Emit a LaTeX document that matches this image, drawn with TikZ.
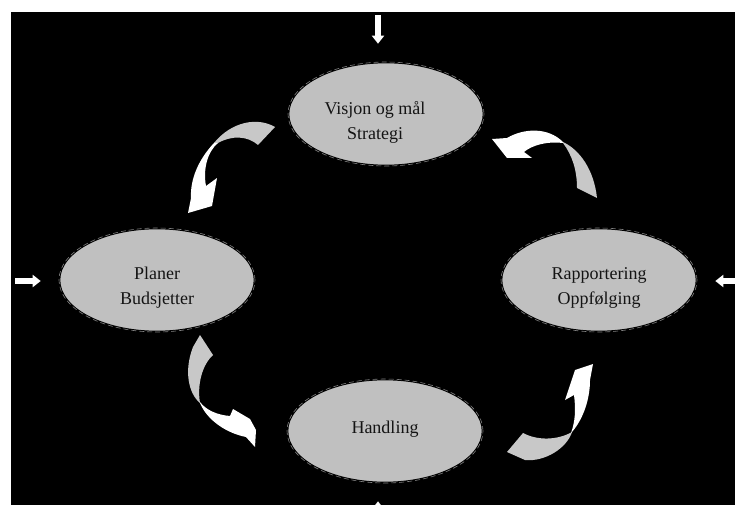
\documentclass[tikz,border=0pt]{standalone}
\usepackage{fontspec}
\setmainfont{Liberation Serif}
\usetikzlibrary{shapes.geometric,arrows.meta}
\definecolor{ellgray}{HTML}{C0C0C0}
\definecolor{ribgray}{HTML}{C8C8C8}
\definecolor{inkgray}{HTML}{141414}

\begin{document}
\begin{tikzpicture}[x=1pt,y=-1pt,
  phase/.style={ellipse, fill=ellgray, draw=black, line width=2.6pt,
    minimum width=196pt, minimum height=104pt, inner sep=0pt,
    postaction={draw=gray, fill=none, line width=0.6pt,
      dash pattern=on 5pt off 3pt}},
  caption/.style={font=\fontsize{18}{25}\selectfont, text=inkgray,
    align=center, inner sep=0pt},
  feed/.style={draw=white, line width=6pt,
    -{Triangle[width=12pt,length=8pt]}, shorten >=17pt},
  ribback/.style={fill=ribgray},
  ribfront/.style={fill=white}]

% page and dark panel
\useasboundingbox (0,0) rectangle (735,505);
\fill[white] (0,0) rectangle (735,505);
\fill[black] (11,12) rectangle (735,505);

% the four phases of the cycle
\node[phase] (vision) at (386,114) {};
\node[phase] (plans)  at (157,280) {};
\node[phase] (report) at (599,280) {};
\node[phase] (action) at (385,431) {};

\node[caption] (visionText) at ([xshift=-11pt,yshift=-8pt]vision.center) {Visjon og mål\\Strategi};
\node[caption] (plansText)  at ([yshift=-8pt]plans.center)  {Planer\\Budsjetter};
\node[caption] (reportText) at ([yshift=-8pt]report.center) {Rapportering\\Oppfølging};
\node[caption] (actionText) at ([yshift=2pt]action.center)  {Handling};

% inputs from outside the cycle
\coordinate (fromTop)    at (378,15);
\coordinate (fromLeft)   at (15,281);
\coordinate (fromRight)  at (735,281);
\coordinate (fromBottom) at (378,520);
\draw[feed] (fromTop) -- (fromTop |- vision.north);
\draw[feed] (fromLeft) -- (fromLeft -| plans.west);
\draw[feed] (fromRight) -- (fromRight -| report.east);
\draw[feed] (fromBottom) -- (fromBottom |- action.south);

% curved ribbon arrows: grey back face, white front face with head
% vision -> plans
\fill[ribback] (275,127) .. controls (258,117) and (232,121) .. (214,143)
  -- (218,143) .. controls (232,135) and (248,136) .. (258,145) -- cycle;
\fill[ribfront] (214,143) .. controls (198,160) and (190,180) .. (191,198)
  -- (188,213) -- (212,206) -- (217,178) -- (206,186)
  .. controls (203,170) and (207,152) .. (218,143) -- cycle;

% report -> vision
\fill[ribback] (563,142) .. controls (580,150) and (594,170) .. (597,198)
  -- (577,188) .. controls (577,170) and (572,155) .. (563,143) -- cycle;
\fill[ribfront] (563,142) .. controls (548,127) and (524,128) .. (507,138)
  -- (492,139) -- (507,158) -- (532,158) -- (524,152)
  .. controls (532,145) and (548,141) .. (563,143) -- cycle;

% plans -> action
\fill[ribback] (200,335) -- (213,355) .. controls (202,365) and (197,385) .. (200,403)
  .. controls (188,393) and (184,370) .. (193,347) -- cycle;
\fill[ribfront] (200,403) .. controls (207,420) and (226,433) .. (246,437)
  -- (255,447) -- (256,430) -- (250,419) -- (233,409) -- (230,416)
  .. controls (217,415) and (206,410) .. (200,402) -- cycle;

% action -> report
\fill[ribback] (507,452) -- (523,433) .. controls (538,441) and (558,440) .. (572,432)
  .. controls (567,448) and (545,462) .. (525,460) -- cycle;
\fill[ribfront] (572,432) .. controls (584,418) and (590,398) .. (590,380)
  -- (593,364) -- (575,370) -- (565,400) -- (574,395)
  .. controls (576,410) and (575,422) .. (571,433) -- cycle;
\end{tikzpicture}
\end{document}
